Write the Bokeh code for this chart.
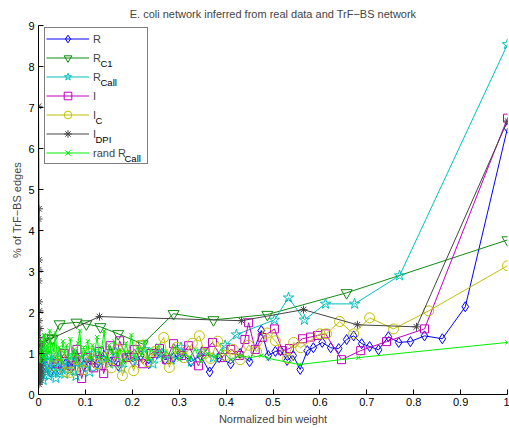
from bokeh.plotting import figure
from bokeh.models import Range1d, FixedTicker, Legend, LegendItem
from bokeh.core.properties import value
from bokeh.embed import file_html
from bokeh.resources import INLINE

TITLE = "E. coli network inferred from real data and TrF\u2212BS network"
XLABEL = "Normalized bin weight"
YLABEL = "% of TrF\u2212BS edges"
x_ticks = [0, 0.1, 0.2, 0.3, 0.4, 0.5, 0.6, 0.7, 0.8, 0.9, 1.0]
x_tick_labels = ["0", "0.1", "0.2", "0.3", "0.4", "0.5", "0.6", "0.7", "0.8", "0.9", "1"]
y_ticks = [0, 1, 2, 3, 4, 5, 6, 7, 8, 9]

# R (blue diamonds)
r_x = [0.015, 0.025, 0.035, 0.045, 0.058, 0.070, 0.083, 0.097, 0.110, 0.125, 0.140, 0.155,
       0.170, 0.186, 0.202, 0.218, 0.235, 0.252, 0.270, 0.288, 0.306, 0.325, 0.345, 0.365,
       0.385, 0.410, 0.430, 0.450, 0.475, 0.490, 0.505, 0.516, 0.530, 0.543, 0.558, 0.573,
       0.586, 0.605, 0.623, 0.640, 0.657, 0.672, 0.689, 0.706, 0.725, 0.746, 0.768, 0.793,
       0.823, 0.861, 0.910, 1.0]
r_y = [0.70, 0.55, 0.80, 0.60, 0.75, 0.65, 0.90, 0.70, 0.85, 0.75, 0.95, 0.80,
       0.70, 0.90, 0.80, 0.95, 0.75, 1.00, 0.85, 0.90, 1.00, 0.80, 0.95, 0.55,
       0.90, 0.75, 1.00, 0.80, 1.56, 0.95, 1.05, 1.07, 0.83, 0.95, 0.61, 1.07,
       1.14, 1.27, 1.14, 1.12, 1.34, 1.43, 1.24, 1.17, 1.09, 1.41, 1.27, 1.29,
       1.43, 1.36, 2.14, 6.50]

# R_C1 (green down-triangles)
rc1_x = [0.010, 0.021, 0.030, 0.045, 0.081, 0.102, 0.132, 0.170, 0.222, 0.288, 0.373, 0.488, 0.657, 1.0]
rc1_y = [1.30, 1.38, 1.36, 1.72, 1.76, 1.72, 1.65, 1.48, 1.23, 1.97, 1.82, 1.95, 2.48, 3.77]

# R_Call (cyan stars)
rcall_x = [0.000, 0.002, 0.004, 0.006, 0.008, 0.010, 0.013, 0.016, 0.019, 0.022, 0.025, 0.029,
           0.033, 0.037, 0.041, 0.046, 0.051, 0.056, 0.062, 0.068, 0.074, 0.080, 0.087, 0.094,
           0.101, 0.109, 0.118, 0.128, 0.139, 0.151, 0.164, 0.178, 0.193, 0.209, 0.226, 0.244,
           0.263, 0.283, 0.304, 0.326, 0.349, 0.373, 0.398, 0.422, 0.503, 0.533, 0.567, 0.612,
           0.674, 0.770, 1.0]
rcall_y = [0.90, 0.40, 1.10, 0.50, 0.85, 0.35, 1.00, 0.55, 0.80, 0.45, 0.95, 0.60,
           0.75, 0.40, 0.90, 0.55, 0.70, 0.50, 0.85, 0.60, 0.95, 0.45, 0.80, 0.65,
           0.90, 0.55, 1.00, 0.70, 0.85, 0.75, 1.05, 0.65, 0.95, 0.80, 1.10, 0.75,
           1.00, 0.85, 1.15, 0.80, 1.05, 0.90, 1.20, 1.46, 1.82, 2.36, 1.82, 2.21,
           2.21, 2.90, 8.54]

# I (magenta squares)
i_x = [0.040, 0.055, 0.070, 0.082, 0.092, 0.105, 0.118, 0.130, 0.139, 0.153, 0.165, 0.173,
       0.188, 0.205, 0.222, 0.240, 0.258, 0.273, 0.288, 0.305, 0.320, 0.341, 0.355, 0.371,
       0.390, 0.410, 0.428, 0.440, 0.448, 0.462, 0.477, 0.503, 0.520, 0.535, 0.563, 0.580,
       0.595, 0.612, 0.646, 0.687, 0.742, 0.823, 1.0]
i_y = [0.75, 1.00, 0.70, 1.10, 0.39, 0.90, 0.65, 1.05, 0.51, 1.19, 0.80, 1.31,
       0.90, 1.10, 0.75, 1.00, 1.12, 0.85, 1.24, 0.95, 1.19, 0.70, 1.05, 1.27,
       0.90, 1.10, 0.95, 1.34, 1.75, 1.10, 1.39, 1.60, 1.07, 1.12, 1.36, 1.40,
       1.44, 1.48, 0.85, 1.07, 1.29, 1.60, 6.74]

# I_C (yellow circles)
ic_x = [0.030, 0.045, 0.058, 0.068, 0.080, 0.095, 0.110, 0.125, 0.140, 0.155, 0.170, 0.179,
        0.192, 0.203, 0.218, 0.232, 0.248, 0.267, 0.279, 0.295, 0.310, 0.328, 0.343, 0.355,
        0.367, 0.382, 0.398, 0.415, 0.430, 0.448, 0.465, 0.488, 0.505, 0.531, 0.544, 0.559,
        0.600, 0.614, 0.642, 0.672, 0.706, 0.757, 0.832, 1.0]
ic_y = [0.70, 0.95, 0.55, 0.54, 0.85, 0.60, 1.00, 0.75, 0.90, 0.65, 1.10, 0.46,
        0.95, 0.58, 1.20, 0.80, 1.05, 1.39, 0.66, 1.15, 0.90, 1.25, 1.43, 1.00,
        0.88, 1.30, 0.95, 1.10, 0.85, 1.20, 1.05, 1.50, 1.31, 0.88, 1.27, 1.14,
        1.48, 1.48, 1.78, 1.48, 1.87, 1.60, 2.04, 3.14]

# I_DPI (dark grey asterisks)
idpi_x = [0.000, 0.001, 0.000, 0.002, 0.001, 0.000, 0.003, 0.001, 0.000, 0.002, 0.000, 0.001,
          0.000, 0.002, 0.001, 0.000, 0.003, 0.000, 0.001, 0.002, 0.000, 0.004, 0.002, 0.006,
          0.003, 0.007, 0.005, 0.004, 0.006, 0.003, 0.008, 0.005, 0.130, 0.433, 0.565, 0.680,
          0.806, 1.0]
idpi_y = [0.30, 1.00, 7.03, 0.50, 4.53, 4.28, 0.80, 3.28, 3.04, 0.40, 2.77, 2.26,
          1.10, 2.04, 1.80, 0.60, 1.61, 1.39, 0.25, 0.90, 1.20, 0.45, 1.05, 0.70,
          0.95, 0.55, 1.20, 0.35, 0.85, 0.65, 1.00, 1.25, 1.90, 1.80, 2.07, 1.70,
          1.65, 6.67]

# rand R_Call (bright green crosses)
rand_x = [0.000, 0.003, 0.006, 0.009, 0.012, 0.015, 0.018, 0.021, 0.024, 0.027, 0.030, 0.033,
          0.036, 0.040, 0.044, 0.048, 0.052, 0.056, 0.060, 0.064, 0.068, 0.072, 0.076, 0.080,
          0.084, 0.088, 0.092, 0.096, 0.100, 0.105, 0.110, 0.115, 0.120, 0.125, 0.130, 0.135,
          0.140, 0.145, 0.150, 0.156, 0.162, 0.168, 0.174, 0.180, 0.186, 0.192, 0.198, 0.205,
          0.212, 0.219, 0.226, 0.233, 0.240, 0.248, 0.256, 0.264, 0.272, 0.281, 0.290, 0.300,
          0.311, 0.322, 0.334, 0.347, 0.361, 0.376, 0.392, 0.410, 0.430, 0.452, 0.475, 0.490,
          0.556, 0.682, 1.0]
rand_y = [1.10, 0.80, 1.30, 0.90, 1.45, 0.85, 1.20, 1.00, 1.55, 0.85, 1.25, 1.05,
          1.50, 0.90, 1.15, 0.80, 1.30, 1.00, 1.20, 0.85, 1.35, 0.95, 1.10, 0.80,
          1.25, 1.55, 0.90, 1.15, 1.00, 1.30, 0.85, 1.20, 1.05, 1.40, 0.90, 1.15,
          1.55, 0.85, 1.20, 1.00, 1.30, 0.90, 1.10, 0.80, 1.25, 1.00, 1.45, 0.90,
          1.15, 0.95, 1.30, 0.85, 1.10, 1.00, 1.20, 0.85, 1.05, 0.95, 1.15, 0.85,
          1.00, 0.90, 1.10, 0.80, 1.00, 0.90, 1.05, 0.85, 0.95, 0.90, 0.95, 0.88,
          0.73, 0.90, 1.27]

series = [
    ("R", "", r_x, r_y, "#0000ff", "diamond", 10),
    ("R", "C1", rc1_x, rc1_y, "#118a11", "inverted_triangle", 11),
    ("R", "Call", rcall_x, rcall_y, "#00c0c0", "star", 11),
    ("I", "", i_x, i_y, "#c000c0", "square", 8),
    ("I", "C", ic_x, ic_y, "#c0c000", "circle", 10),
    ("I", "DPI", idpi_x, idpi_y, "#444444", "asterisk", 8),
    ("rand R", "Call", rand_x, rand_y, "#00ee00", "x", 6),
]

FONT = "Liberation Sans"
W, H = 509, 428
BL, BR, BT, BB = 38, 2, 24, 34
FRAME_W, FRAME_H = W - BL - BR, H - BT - BB
X0, X1, Y0, Y1 = 0, 1, 0, 9

p = figure(width=W, height=H, output_backend="svg", toolbar_location=None,
           x_range=Range1d(X0, X1), y_range=Range1d(Y0, Y1),
           min_border_left=BL, min_border_right=BR, min_border_top=BT, min_border_bottom=BB)
p.title.text = TITLE
p.title.align = "center"
p.title.text_font = FONT
p.title.text_font_size = "11px"
p.title.text_font_style = "normal"
p.title.standoff = 11
p.outline_line_color = None
p.grid.visible = False
p.background_fill_color = "white"

for ax in (p.xaxis[0], p.yaxis[0]):
    ax.major_tick_in = 5
    ax.major_tick_out = 0
    ax.minor_tick_in = 0
    ax.minor_tick_out = 0
    ax.axis_line_color = "black"
    ax.major_tick_line_color = "black"
    ax.major_label_text_font = FONT
    ax.major_label_text_font_size = "11px"
    ax.axis_label_text_font = FONT
    ax.axis_label_text_font_size = "11px"
    ax.axis_label_text_font_style = "normal"
    ax.major_label_text_color = "black"

p.xaxis.ticker = FixedTicker(ticks=x_ticks)
p.xaxis.major_label_overrides = {t: l for t, l in zip(x_ticks, x_tick_labels)}
p.xaxis.axis_label = XLABEL
p.xaxis.major_label_standoff = 3
p.xaxis.axis_label_standoff = 4
p.yaxis.ticker = FixedTicker(ticks=y_ticks)
p.yaxis.axis_label = YLABEL
p.yaxis.major_label_standoff = 4
p.yaxis.axis_label_standoff = 2

items = []
for name, sub, xs, ys, color, marker, size in series:
    lr = p.line(xs, ys, line_color=color, line_width=1)
    sr = p.scatter(xs, ys, marker=marker, size=size, line_color=color, fill_color=None, line_width=1)
    items.append(LegendItem(label=name, renderers=[lr, sr]))

ITEM_H = 19
PAD = 1
LEG_X = 6
LEG_BOTTOM = 230
GLYPH_W = 43
STANDOFF = 4
legend = Legend(items=items, location=(LEG_X, LEG_BOTTOM), padding=PAD, spacing=0,
                glyph_width=GLYPH_W, glyph_height=ITEM_H, label_height=ITEM_H,
                label_width=53, label_standoff=STANDOFF, margin=0,
                label_text_font=FONT, label_text_font_size="11px",
                border_line_color="black", border_line_width=1,
                background_fill_alpha=0)
p.add_layout(legend, "center")

# subscripts for legend labels (screen offsets inside the legend -> data space)
leg_top = LEG_BOTTOM + PAD * 2 + ITEM_H * len(series)
main_w = {"R": 8, "I": 3, "rand R": 32}
sx, sy, st = [], [], []
for i, (name, sub, xs, ys, color, marker, size) in enumerate(series):
    if not sub:
        continue
    cy = leg_top - PAD - ITEM_H * (i + 0.5) - 4
    cx = LEG_X + PAD + GLYPH_W + STANDOFF + main_w[name]
    sx.append(X0 + (X1 - X0) * cx / FRAME_W)
    sy.append(Y0 + (Y1 - Y0) * cy / FRAME_H)
    st.append(sub)
p.text(x=sx, y=sy, text=st, text_font=value(FONT), text_font_size="9.5px",
       text_baseline="middle", text_align="left", text_color="black")

open("out.html", "w").write(file_html(p, INLINE))
